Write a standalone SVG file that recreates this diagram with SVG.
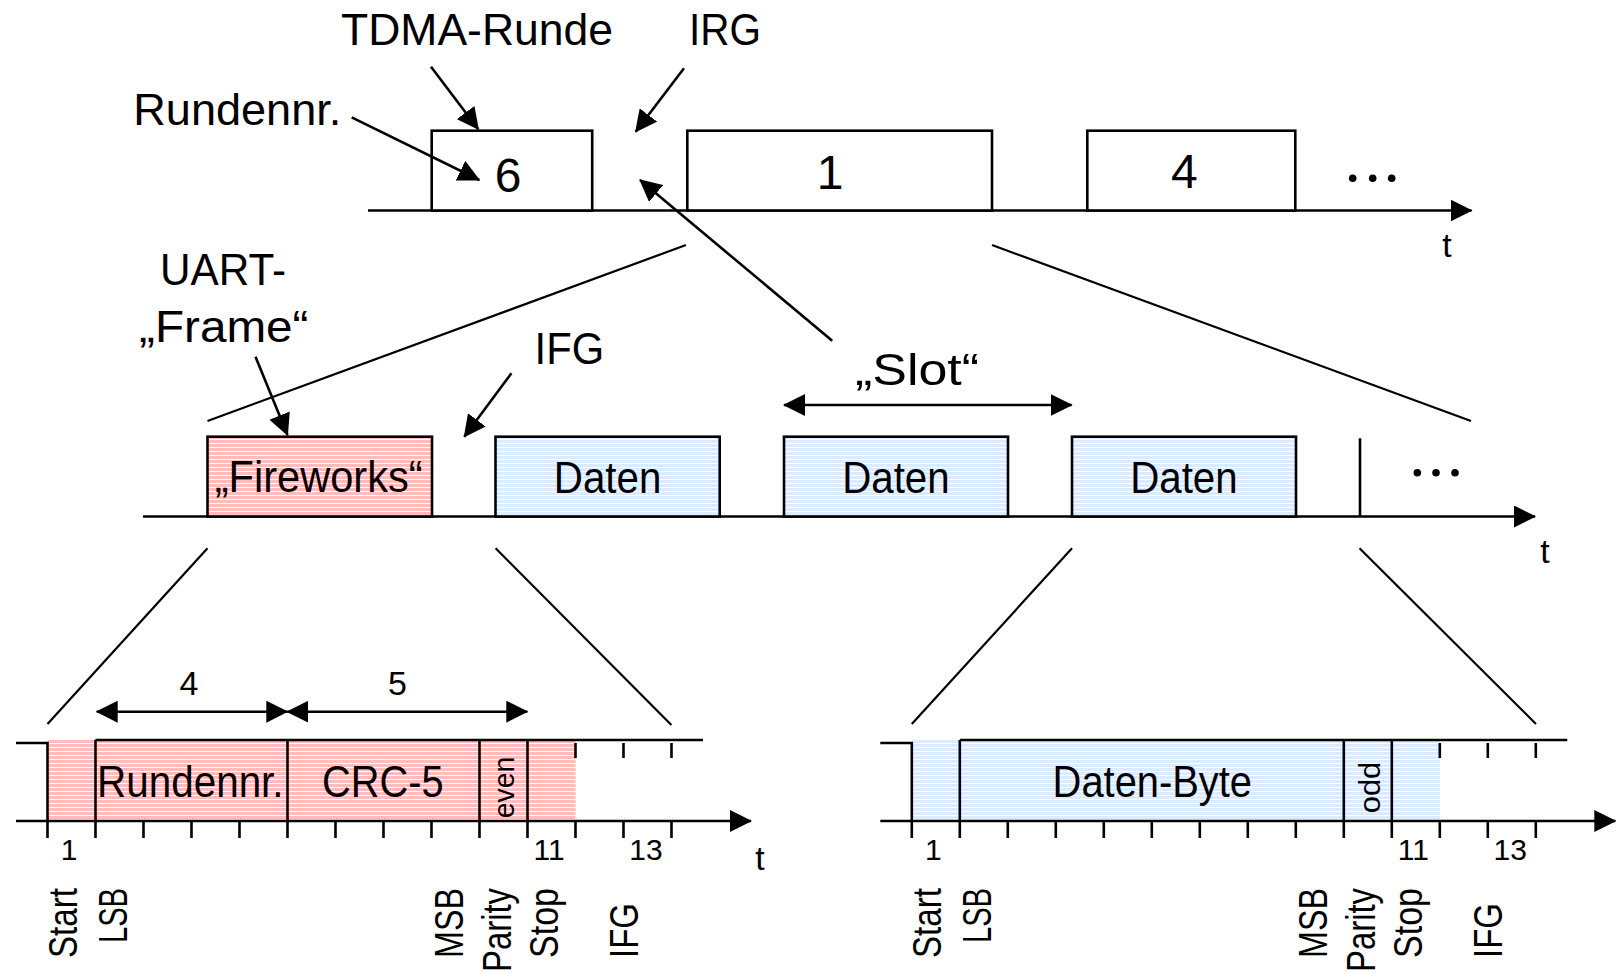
<svg xmlns="http://www.w3.org/2000/svg" width="1619" height="974" viewBox="0 0 1619 974">
  <defs>
    <style>
      .ln { stroke: #000; stroke-width: 2.6; fill: none; }
      .thin { stroke: #000; stroke-width: 2.2; fill: none; }
      .box { stroke: #000; stroke-width: 2.6; fill: #fff; }
      .pink { fill: url(#hatchPink); }
      .blue { fill: url(#hatchBlue); }
      .arr { marker-end: url(#ah); }
      .arr2 { marker-start: url(#ah); marker-end: url(#ah); }
      text { font-family: "Liberation Sans", Arial, sans-serif; fill: #000; }
      .big { font-size: 45px; }
      .num { font-size: 48px; text-anchor: middle; }
      .mid { font-size: 44px; }
      .small { font-size: 30px; text-anchor: middle; }
      .dim { font-size: 34px; text-anchor: middle; }
      .rot { font-size: 40px; }
      .tt { font-size: 34px; text-anchor: middle; }
    </style>
    <pattern id="hatchPink" patternUnits="userSpaceOnUse" width="10" height="4">
      <rect width="10" height="4" fill="#ffbcbc"/>
      <rect y="3" width="10" height="1" fill="#ffffff"/>
    </pattern>
    <pattern id="hatchBlue" patternUnits="userSpaceOnUse" width="10" height="4">
      <rect width="10" height="4" fill="#dcecff"/>
      <rect y="3" width="10" height="1" fill="#ffffff"/>
    </pattern>
    <marker id="ah" viewBox="0 0 22 22" markerWidth="22" markerHeight="22" refX="21" refY="11" orient="auto-start-reverse" markerUnits="userSpaceOnUse">
      <path d="M0,0 L22,11 L0,22 z" fill="#000"/>
    </marker>
  </defs>

  <rect width="1619" height="974" fill="#fff"/>

  <!-- TDMA round level -->
  <g id="round-axis">
    <line class="ln arr" x1="368" y1="210.5" x2="1471.5" y2="210.5"/>
    <text class="tt" x="1447" y="256.5">t</text>
    <circle cx="1352.7" cy="178.3" r="3.8"/>
    <circle cx="1372.7" cy="178.3" r="3.8"/>
    <circle cx="1391.7" cy="178.3" r="3.8"/>
  </g>
  <g id="round-6">
    <rect class="box" x="431.7" y="130.7" width="160.5" height="79.8"/>
    <text class="num" x="508" y="191.7">6</text>
  </g>
  <g id="round-1">
    <rect class="box" x="687.3" y="130.7" width="304.7" height="79.8"/>
    <text class="num" x="830" y="189.3">1</text>
  </g>
  <g id="round-4">
    <rect class="box" x="1087.3" y="130.7" width="208" height="79.8"/>
    <text class="num" x="1184.4" y="188.3">4</text>
  </g>
  <g id="label-tdma">
    <text class="big" x="341" y="44.5" textLength="272" lengthAdjust="spacingAndGlyphs">TDMA-Runde</text>
  </g>
  <g id="label-irg">
    <text class="big" x="689" y="44.5" textLength="72" lengthAdjust="spacingAndGlyphs">IRG</text>
  </g>
  <g id="label-rundennr">
    <text class="big" x="133.3" y="125" textLength="208" lengthAdjust="spacingAndGlyphs">Rundennr.</text>
  </g>

  <!-- slot level -->
  <g id="slot-axis">
    <line class="ln arr" x1="143" y1="516.5" x2="1535" y2="516.5"/>
    <line class="ln" x1="1360" y1="438.3" x2="1360" y2="516.5"/>
    <text class="tt" x="1545" y="562.7">t</text>
    <circle cx="1417.3" cy="472.7" r="3.8"/>
    <circle cx="1436" cy="472.7" r="3.8"/>
    <circle cx="1455" cy="472.7" r="3.8"/>
  </g>
  <g id="frame-fireworks">
    <rect class="ln pink" x="207.5" y="436.7" width="224.5" height="79.8"/>
    <text class="mid" x="214.7" y="491.7" textLength="208" lengthAdjust="spacingAndGlyphs">„Fireworks“</text>
  </g>
  <g id="frame-daten-1">
    <rect class="ln blue" x="495.5" y="436.7" width="224.2" height="79.8"/>
    <text class="mid" x="553.8" y="493" textLength="107.5" lengthAdjust="spacingAndGlyphs">Daten</text>
  </g>
  <g id="frame-daten-2">
    <rect class="ln blue" x="784" y="436.7" width="224" height="79.8"/>
    <text class="mid" x="842.2" y="493" textLength="107.5" lengthAdjust="spacingAndGlyphs">Daten</text>
  </g>
  <g id="frame-daten-3">
    <rect class="ln blue" x="1072" y="436.7" width="224" height="79.8"/>
    <text class="mid" x="1130.2" y="493" textLength="107.5" lengthAdjust="spacingAndGlyphs">Daten</text>
  </g>
  <g id="label-uart">
    <text class="big" x="160" y="285" textLength="126" lengthAdjust="spacingAndGlyphs">UART-</text>
    <text class="big" x="139" y="341.7" textLength="169.5" lengthAdjust="spacingAndGlyphs">„Frame“</text>
  </g>
  <g id="label-ifg">
    <text class="big" x="534.6" y="364" textLength="69.5" lengthAdjust="spacingAndGlyphs">IFG</text>
  </g>
  <g id="label-slot">
    <text class="big" x="855" y="385" textLength="124" lengthAdjust="spacingAndGlyphs">„Slot“</text>
  </g>

  <!-- UART frame with round number (bit level) -->
  <g id="bits-fireworks">
    <rect class="pink" x="47.5" y="740" width="528" height="81"/>
    <polyline class="ln" points="16,743 47.5,743 47.5,821"/>
    <line class="ln" x1="95.5" y1="740" x2="703" y2="740"/>
    <line class="ln" x1="95.5" y1="740" x2="95.5" y2="821"/>
    <line class="ln" x1="287.5" y1="740" x2="287.5" y2="821"/>
    <line class="ln" x1="479.5" y1="740" x2="479.5" y2="821"/>
    <line class="ln" x1="527.5" y1="740" x2="527.5" y2="821"/>
    <path class="ln" d="M575.5,743v15 M623.5,743v15 M671.5,743v15"/>
    <line class="ln arr" x1="16" y1="821" x2="751" y2="821"/>
    <path class="ln" d="M47.5,821v17 M95.5,821v17 M143.5,821v17 M191.5,821v17 M239.5,821v17 M287.5,821v17 M335.5,821v17 M383.5,821v17 M431.5,821v17 M479.5,821v17 M527.5,821v17 M575.5,821v17 M623.5,821v17 M671.5,821v17"/>
    <text class="mid" x="97" y="796.7" textLength="186.6" lengthAdjust="spacingAndGlyphs">Rundennr.</text>
    <text class="mid" x="322" y="796.7" textLength="121.5" lengthAdjust="spacingAndGlyphs">CRC-5</text>
    <text class="small" transform="translate(514 787.5) rotate(-90)" textLength="61.6" lengthAdjust="spacingAndGlyphs">even</text>
    <text class="small" x="69" y="860">1</text>
    <text class="small" x="549" y="860">11</text>
    <text class="small" x="646" y="860">13</text>
    <text class="tt" x="760" y="870">t</text>
    <text class="dim" x="189" y="694.5">4</text>
    <text class="dim" x="397.5" y="694.5">5</text>
    <text class="rot" transform="translate(77 958) rotate(-90)" textLength="70" lengthAdjust="spacingAndGlyphs">Start</text>
    <text class="rot" transform="translate(127 943) rotate(-90)" textLength="55" lengthAdjust="spacingAndGlyphs">LSB</text>
    <text class="rot" transform="translate(463 958) rotate(-90)" textLength="70" lengthAdjust="spacingAndGlyphs">MSB</text>
    <text class="rot" transform="translate(511 972) rotate(-90)" textLength="84" lengthAdjust="spacingAndGlyphs">Parity</text>
    <text class="rot" transform="translate(557.5 958) rotate(-90)" textLength="70" lengthAdjust="spacingAndGlyphs">Stop</text>
    <text class="rot" transform="translate(637.5 958) rotate(-90)" textLength="55" lengthAdjust="spacingAndGlyphs">IFG</text>
  </g>

  <!-- UART frame with data byte (bit level) -->
  <g id="bits-daten" transform="translate(864.3 0)">
    <rect class="blue" x="47.5" y="740" width="528" height="81"/>
    <polyline class="ln" points="16,743 47.5,743 47.5,821"/>
    <line class="ln" x1="95.5" y1="740" x2="703" y2="740"/>
    <line class="ln" x1="95.5" y1="740" x2="95.5" y2="821"/>
    <line class="ln" x1="479.5" y1="740" x2="479.5" y2="821"/>
    <line class="ln" x1="527.5" y1="740" x2="527.5" y2="821"/>
    <path class="ln" d="M575.5,743v15 M623.5,743v15 M671.5,743v15"/>
    <line class="ln arr" x1="16" y1="821" x2="751" y2="821"/>
    <path class="ln" d="M47.5,821v17 M95.5,821v17 M143.5,821v17 M191.5,821v17 M239.5,821v17 M287.5,821v17 M335.5,821v17 M383.5,821v17 M431.5,821v17 M479.5,821v17 M527.5,821v17 M575.5,821v17 M623.5,821v17 M671.5,821v17"/>
    <text class="mid" x="188.3" y="796.7" textLength="199.4" lengthAdjust="spacingAndGlyphs">Daten-Byte</text>
    <text class="small" transform="translate(515.7 787.5) rotate(-90)" textLength="51.6" lengthAdjust="spacingAndGlyphs">odd</text>
    <text class="small" x="69" y="860">1</text>
    <text class="small" x="549" y="860">11</text>
    <text class="small" x="646" y="860">13</text>
    <text class="rot" transform="translate(77 958) rotate(-90)" textLength="70" lengthAdjust="spacingAndGlyphs">Start</text>
    <text class="rot" transform="translate(127 943) rotate(-90)" textLength="55" lengthAdjust="spacingAndGlyphs">LSB</text>
    <text class="rot" transform="translate(463 958) rotate(-90)" textLength="70" lengthAdjust="spacingAndGlyphs">MSB</text>
    <text class="rot" transform="translate(511 972) rotate(-90)" textLength="84" lengthAdjust="spacingAndGlyphs">Parity</text>
    <text class="rot" transform="translate(557.5 958) rotate(-90)" textLength="70" lengthAdjust="spacingAndGlyphs">Stop</text>
    <text class="rot" transform="translate(637.5 958) rotate(-90)" textLength="55" lengthAdjust="spacingAndGlyphs">IFG</text>
  </g>

  <!-- pointers, spans and zoom lines -->
  <g id="connectors">
    <line class="ln arr" x1="431" y1="66.7" x2="478.3" y2="129.3"/>
    <line class="ln arr" x1="684" y1="68.3" x2="635.7" y2="131.7"/>
    <line class="ln arr" x1="351.7" y1="117.3" x2="479.3" y2="180"/>
    <line class="ln arr" x1="832.2" y1="340.7" x2="640" y2="180"/>
    <line class="ln arr" x1="255.5" y1="356.7" x2="287.5" y2="435"/>
    <line class="ln arr" x1="511.4" y1="373.3" x2="464.3" y2="436.7"/>
    <line class="ln arr2" x1="784" y1="405" x2="1071.7" y2="405"/>
    <line class="ln arr2" x1="96.7" y1="711.7" x2="287.3" y2="711.7"/>
    <line class="ln arr2" x1="287.3" y1="711.7" x2="527.3" y2="711.7"/>
    <line class="thin" x1="686" y1="245" x2="207.5" y2="421"/>
    <line class="thin" x1="992" y1="245" x2="1471" y2="421"/>
    <line class="thin" x1="207.5" y1="548.3" x2="47.5" y2="724"/>
    <line class="thin" x1="495.6" y1="548.3" x2="671.4" y2="725"/>
    <line class="thin" x1="1072" y1="548.3" x2="911.8" y2="724"/>
    <line class="thin" x1="1359.5" y1="548.3" x2="1536" y2="724"/>
  </g>
</svg>
